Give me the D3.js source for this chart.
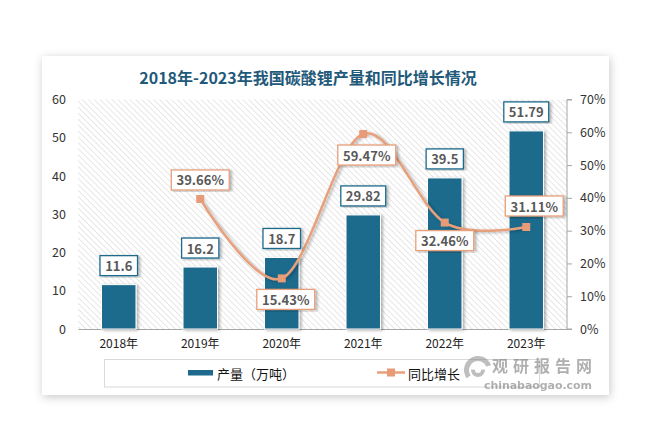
<!DOCTYPE html>
<html><head><meta charset="utf-8">
<script src="https://cdn.jsdelivr.net/npm/d3@7/dist/d3.min.js"></script>
<style>html,body{margin:0;padding:0;background:#fff;}svg{display:block;}</style>
</head><body>
<script>
const categories = ["2018年","2019年","2020年","2021年","2022年","2023年"];
const production = [11.6, 16.2, 18.7, 29.82, 39.5, 51.79];
const growthYears = ["2019年","2020年","2021年","2022年","2023年"];
const growth = [39.66, 15.43, 59.47, 32.46, 31.11];
const leftTicks = [0,10,20,30,40,50,60];
const rightTicks = [0,10,20,30,40,50,60,70];
const seriesNames = ["产量（万吨）","同比增长"];
const titleText = "2018年-2023年我国碳酸锂产量和同比增长情况";
// label placement (dx, dy) relative to each growth marker
const growthLabelOffsets = [[0,-19],[4,21],[3.5,21],[0,18],[8,-21]];

const W=661,H=445;
const barColor="#1d6a8c", lineColor="#e8a07c", markerColor="#e89b77", labelColor="#595959";
const font='"Noto Sans CJK SC","Open Sans",sans-serif';

const svg=d3.select("body").append("svg").attr("width",W).attr("height",H);
svg.append("rect").attr("width",W).attr("height",H).attr("fill","#fff");
const defs=svg.append("defs");
const f=defs.append("filter").attr("id","cardShadow").attr("x","-10%").attr("y","-10%").attr("width","120%").attr("height","120%");
f.append("feDropShadow").attr("dx",1).attr("dy",2).attr("stdDeviation",5).attr("flood-color","#000").attr("flood-opacity",0.22);
const f2=defs.append("filter").attr("id","barShadow").attr("x","-30%").attr("y","-10%").attr("width","160%").attr("height","120%");
f2.append("feDropShadow").attr("dx",2).attr("dy",1).attr("stdDeviation",1.5).attr("flood-color","#000").attr("flood-opacity",0.3);
const pat=defs.append("pattern").attr("id","hatch").attr("patternUnits","userSpaceOnUse")
  .attr("width",4.2).attr("height",4.2).attr("patternTransform","rotate(-45)");
pat.append("line").attr("x1",0).attr("y1",0).attr("x2",0).attr("y2",4.2).attr("stroke","#cfcfcf").attr("stroke-width",1);

// card
svg.append("rect").attr("x",42).attr("y",56).attr("width",567).attr("height",339).attr("fill","#fff").attr("filter","url(#cardShadow)");

// title
svg.append("text").attr("x",308).attr("y",77).attr("text-anchor","middle").attr("dominant-baseline","central")
  .attr("font-family",font).attr("font-weight","bold").attr("font-size",16).attr("fill","#1f5a7a").text(titleText);

const x0=78,x1=567,yTop=99.5,yBot=329;
const x=d3.scaleBand().domain(categories).range([x0,x1]).paddingInner(0.577).paddingOuter(0.2885);
const yL=d3.scaleLinear().domain([0,60]).range([yBot,yTop]);
const yR=d3.scaleLinear().domain([0,70]).range([yBot,yTop]);

// hatched plot background
svg.append("rect").attr("x",x0).attr("y",yTop).attr("width",x1-x0).attr("height",yBot-yTop).attr("fill","url(#hatch)");

// left axis
const gL=svg.append("g").attr("transform",`translate(${x0},0)`)
  .call(d3.axisLeft(yL).tickValues(leftTicks).tickSize(0).tickPadding(12).tickFormat(d3.format("d")));
gL.select(".domain").remove();
gL.selectAll("text").attr("font-family",font).attr("font-size",12.5).attr("fill","#333");

// right axis
const gR=svg.append("g").attr("transform",`translate(${x1},0)`)
  .call(d3.axisRight(yR).tickValues(rightTicks).tickSize(5).tickPadding(8).tickFormat(d=>d+"%"));
gR.select(".domain").attr("stroke","#a6a6a6").attr("d",`M5,${yTop}H0V${yBot}H5`);
gR.selectAll(".tick line").attr("stroke","#a6a6a6");
gR.selectAll("text").attr("font-family",font).attr("font-size",12.5).attr("fill","#333");

// bottom axis
const gB=svg.append("g").attr("transform",`translate(0,${yBot})`)
  .call(d3.axisBottom(x).tickSize(0).tickPadding(10));
gB.select(".domain").attr("stroke","#a6a6a6").attr("stroke-width",1.2);
gB.selectAll("text").attr("font-family",font).attr("font-size",12).attr("fill","#222");

// bars
svg.append("g").selectAll("rect").data(production).join("rect")
  .attr("x",(d,i)=>x(categories[i])).attr("width",x.bandwidth())
  .attr("y",d=>yL(d)).attr("height",d=>yBot-yL(d))
  .attr("fill",barColor).attr("stroke","#fff").attr("stroke-width",1).attr("filter","url(#barShadow)");

function boxLabel(g,cx,cy,txt,stroke){
  const gg=g.append("g");
  const t=gg.append("text").attr("x",cx).attr("y",cy).attr("text-anchor","middle").attr("dominant-baseline","central")
    .attr("font-family",font).attr("font-weight","bold").attr("font-size",13).attr("fill",labelColor).text(txt);
  const bb=t.node().getBBox();
  gg.insert("rect","text").attr("x",cx-bb.width/2-5).attr("y",cy-10).attr("width",bb.width+10).attr("height",20)
    .attr("fill","#fff").attr("stroke",stroke).attr("stroke-width",1.3).attr("filter","url(#barShadow)");
}
const gLab=svg.append("g");
production.forEach((d,i)=>{
  boxLabel(gLab,x(categories[i])+x.bandwidth()/2,yL(d)-19,String(d),barColor);
});

// line
const pts=growth.map((d,i)=>[x(growthYears[i])+x.bandwidth()/2,yR(d)]);
svg.append("path").attr("d",d3.line().curve(d3.curveCardinal.tension(0))(pts))
  .attr("fill","none").attr("stroke",lineColor).attr("stroke-width",2.5).attr("filter","url(#barShadow)");
svg.append("g").selectAll("rect").data(pts).join("rect")
  .attr("x",p=>p[0]-4).attr("y",p=>p[1]-4).attr("width",8).attr("height",8).attr("fill",markerColor);
growth.forEach((d,i)=>{
  boxLabel(gLab,pts[i][0]+growthLabelOffsets[i][0],pts[i][1]+growthLabelOffsets[i][1],d.toFixed(2)+"%",lineColor);
});
svg.node().appendChild(gLab.node());

// legend
const lg=svg.append("g");
lg.append("rect").attr("x",104.5).attr("y",359.5).attr("width",435).attr("height",27.5).attr("fill","#fff").attr("stroke","#d9d9d9");
lg.append("rect").attr("x",188).attr("y",370).attr("width",25).attr("height",5.5).attr("fill",barColor);
lg.append("text").attr("x",217).attr("y",373).attr("dominant-baseline","central").attr("font-family",font).attr("font-size",13).attr("fill","#111").text(seriesNames[0]);
lg.append("line").attr("x1",377).attr("x2",405).attr("y1",372.5).attr("y2",372.5).attr("stroke",lineColor).attr("stroke-width",2.5);
lg.append("rect").attr("x",387).attr("y",368.5).attr("width",8).attr("height",8).attr("fill",markerColor);
lg.append("text").attr("x",408).attr("y",373).attr("dominant-baseline","central").attr("font-family",font).attr("font-size",13).attr("fill","#111").text(seriesNames[1]);

// watermark
const wm=svg.append("g").attr("opacity",0.55);
wm.append("path").attr("d",d3.arc()({innerRadius:9,outerRadius:14,startAngle:-2.2,endAngle:1.2})).attr("transform","translate(478,370)").attr("fill","#8a8a8a");
wm.append("path").attr("d",d3.arc()({innerRadius:3,outerRadius:7,startAngle:1.5,endAngle:4.8})).attr("transform","translate(478,370)").attr("fill","#8a8a8a");
wm.append("text").attr("x",492).attr("y",365).attr("dominant-baseline","central").attr("font-family",font).attr("font-weight","bold").attr("font-size",16).attr("fill","#6e6e6e").attr("textLength",100).text("观研报告网");
wm.append("text").attr("x",484).attr("y",385.5).attr("dominant-baseline","central").attr("font-family",'"DejaVu Sans",sans-serif').attr("font-weight","bold").attr("font-size",11).attr("fill","#6e6e6e").attr("textLength",108).text("chinabaogao.com");
</script>
</body></html>
